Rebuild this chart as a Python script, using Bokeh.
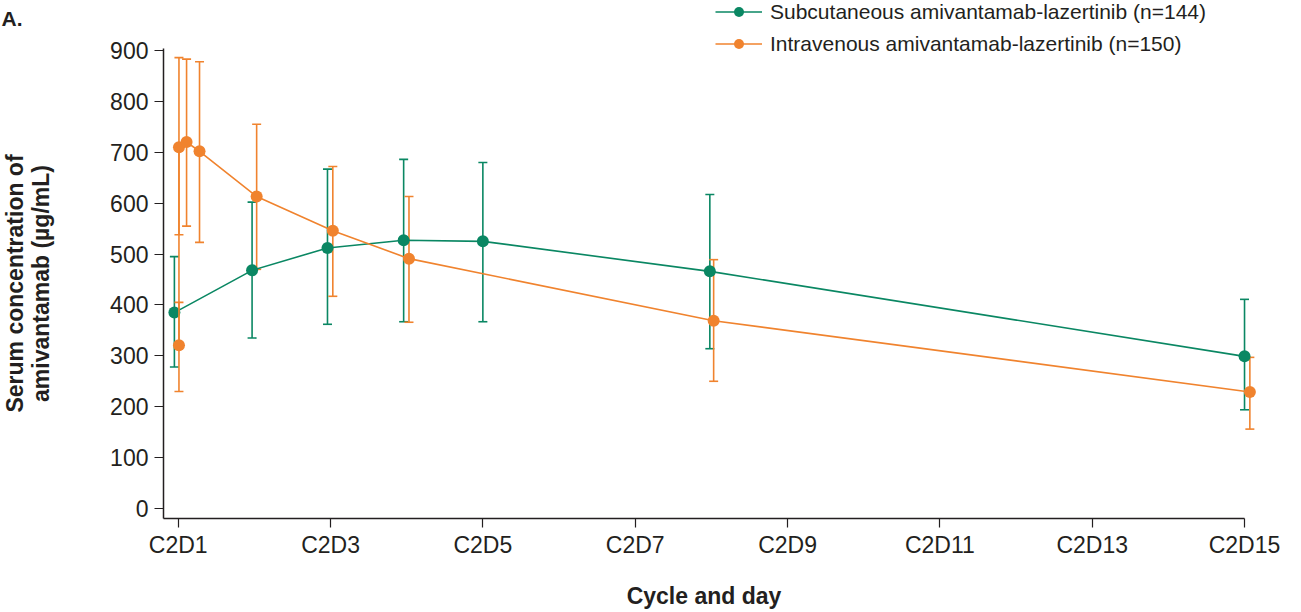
from bokeh.plotting import figure
from bokeh.models import (ColumnDataSource, Whisker, TeeHead, Legend, LegendItem,
                          FixedTicker, Range1d, Label, LinearAxis)
from bokeh.embed import file_html
from bokeh.resources import INLINE

# ---- data ----
sc_day = [0.95, 1.97, 2.96, 3.96, 5.0, 7.98, 15.0]
sc_mean = [385, 468, 512, 527, 525, 466, 299]
sc_upper = [495, 602, 667, 686, 680, 617, 411]
sc_lower = [278, 335, 362, 367, 367, 314, 194]

iv_day = [1.01, 1.01, 1.11, 1.28, 2.03, 3.03, 4.03, 8.03, 15.07]
iv_mean = [321, 710, 720, 702, 613, 546, 491, 369, 229]
iv_upper = [405, 886, 883, 878, 755, 672, 613, 489, 297]
iv_lower = [230, 538, 555, 523, 470, 417, 366, 250, 156]

x_ticks = [1, 3, 5, 7, 9, 11, 13, 15]
x_tick_labels = ["C2D1", "C2D3", "C2D5", "C2D7", "C2D9", "C2D11", "C2D13", "C2D15"]
y_ticks = [0, 100, 200, 300, 400, 500, 600, 700, 800, 900]

sc_label = "Subcutaneous amivantamab-lazertinib (n=144)"
iv_label = "Intravenous amivantamab-lazertinib (n=150)"

GREEN = "#0a8763"
ORANGE = "#f0832e"
INK = "#231f20"
FONT = "Liberation Sans"

X_AXIS_START, X_AXIS_END = 0.807, 15.0
Y_AXIS_START, Y_AXIS_END = -19.65, 903

p = figure(width=1301, height=612, output_backend="svg", toolbar_location=None,
           x_range=Range1d(-1.333, 15.748), y_range=Range1d(-204.4, 998.3),
           x_axis_location=None, y_axis_location=None,
           min_border_left=0, min_border_right=0, min_border_top=0,
           min_border_bottom=0)
p.outline_line_color = None
p.grid.visible = False
p.background_fill_color = "white"
p.border_fill_color = "white"

xax = LinearAxis(fixed_location=Y_AXIS_START)
p.add_layout(xax, "below")
yax = LinearAxis(fixed_location=X_AXIS_START)
p.add_layout(yax, "left")

sc = ColumnDataSource(dict(x=sc_day, y=sc_mean, up=sc_upper, lo=sc_lower))
iv = ColumnDataSource(dict(x=iv_day, y=iv_mean, up=iv_upper, lo=iv_lower))

for src, col in ((sc, GREEN), (iv, ORANGE)):
    w = Whisker(source=src, base="x", upper="up", lower="lo", dimension="height",
                line_color=col, line_width=1.6,
                upper_head=TeeHead(size=9, line_color=col, line_width=1.6),
                lower_head=TeeHead(size=9, line_color=col, line_width=1.6))
    p.add_layout(w)

sc_line = p.line("x", "y", source=sc, line_color=GREEN, line_width=1.6)
sc_pts = p.scatter("x", "y", source=sc, size=12, fill_color=GREEN, line_color=None)
iv_line = p.line("x", "y", source=iv, line_color=ORANGE, line_width=1.6)
iv_pts = p.scatter("x", "y", source=iv, size=12, fill_color=ORANGE, line_color=None)

# axes
xax.ticker = FixedTicker(ticks=x_ticks)
xax.major_label_overrides = {t: l for t, l in zip(x_ticks, x_tick_labels)}
xax.bounds = (X_AXIS_START, X_AXIS_END)
yax.ticker = FixedTicker(ticks=y_ticks)
yax.bounds = (Y_AXIS_START, Y_AXIS_END)
for ax in (xax, yax):
    ax.axis_line_color = INK
    ax.axis_line_width = 1.5
    ax.major_tick_line_color = INK
    ax.major_tick_line_width = 1.2
    ax.major_tick_out = 9
    ax.major_tick_in = 0
    ax.minor_tick_line_color = None
    ax.major_label_text_font = FONT
    ax.major_label_text_font_size = "23px"
    ax.major_label_text_color = INK
    ax.axis_label_text_font = FONT
    ax.axis_label_text_font_size = "23px"
    ax.axis_label_text_font_style = "bold"
    ax.axis_label_text_color = INK
xax.major_label_standoff = 5
yax.major_label_standoff = 6
xax.axis_label = "Cycle and day"
xax.axis_label_standoff = 21
yax.axis_label = "Serum concentration of\namivantamab (\u00b5g/mL)"
yax.axis_label_standoff = 53
yax.axis_label_text_line_height = 1.0

legend = Legend(items=[LegendItem(label=sc_label, renderers=[sc_line, sc_pts]),
                       LegendItem(label=iv_label, renderers=[iv_line, iv_pts])],
                location=(715, 555.7), orientation="vertical",
                glyph_width=47, glyph_height=25, label_height=20, label_standoff=8,
                spacing=7, padding=0, margin=0,
                border_line_color=None, background_fill_alpha=0,
                label_text_font=FONT, label_text_font_size="21px",
                label_text_color=INK)
p.add_layout(legend)

p.add_layout(Label(x=1, y=606, x_units="screen", y_units="screen", text="A.",
                   text_baseline="top",
                   text_font=FONT, text_font_size="21px", text_font_style="bold",
                   text_color=INK))

open("out.html", "w").write(file_html(p, INLINE))
